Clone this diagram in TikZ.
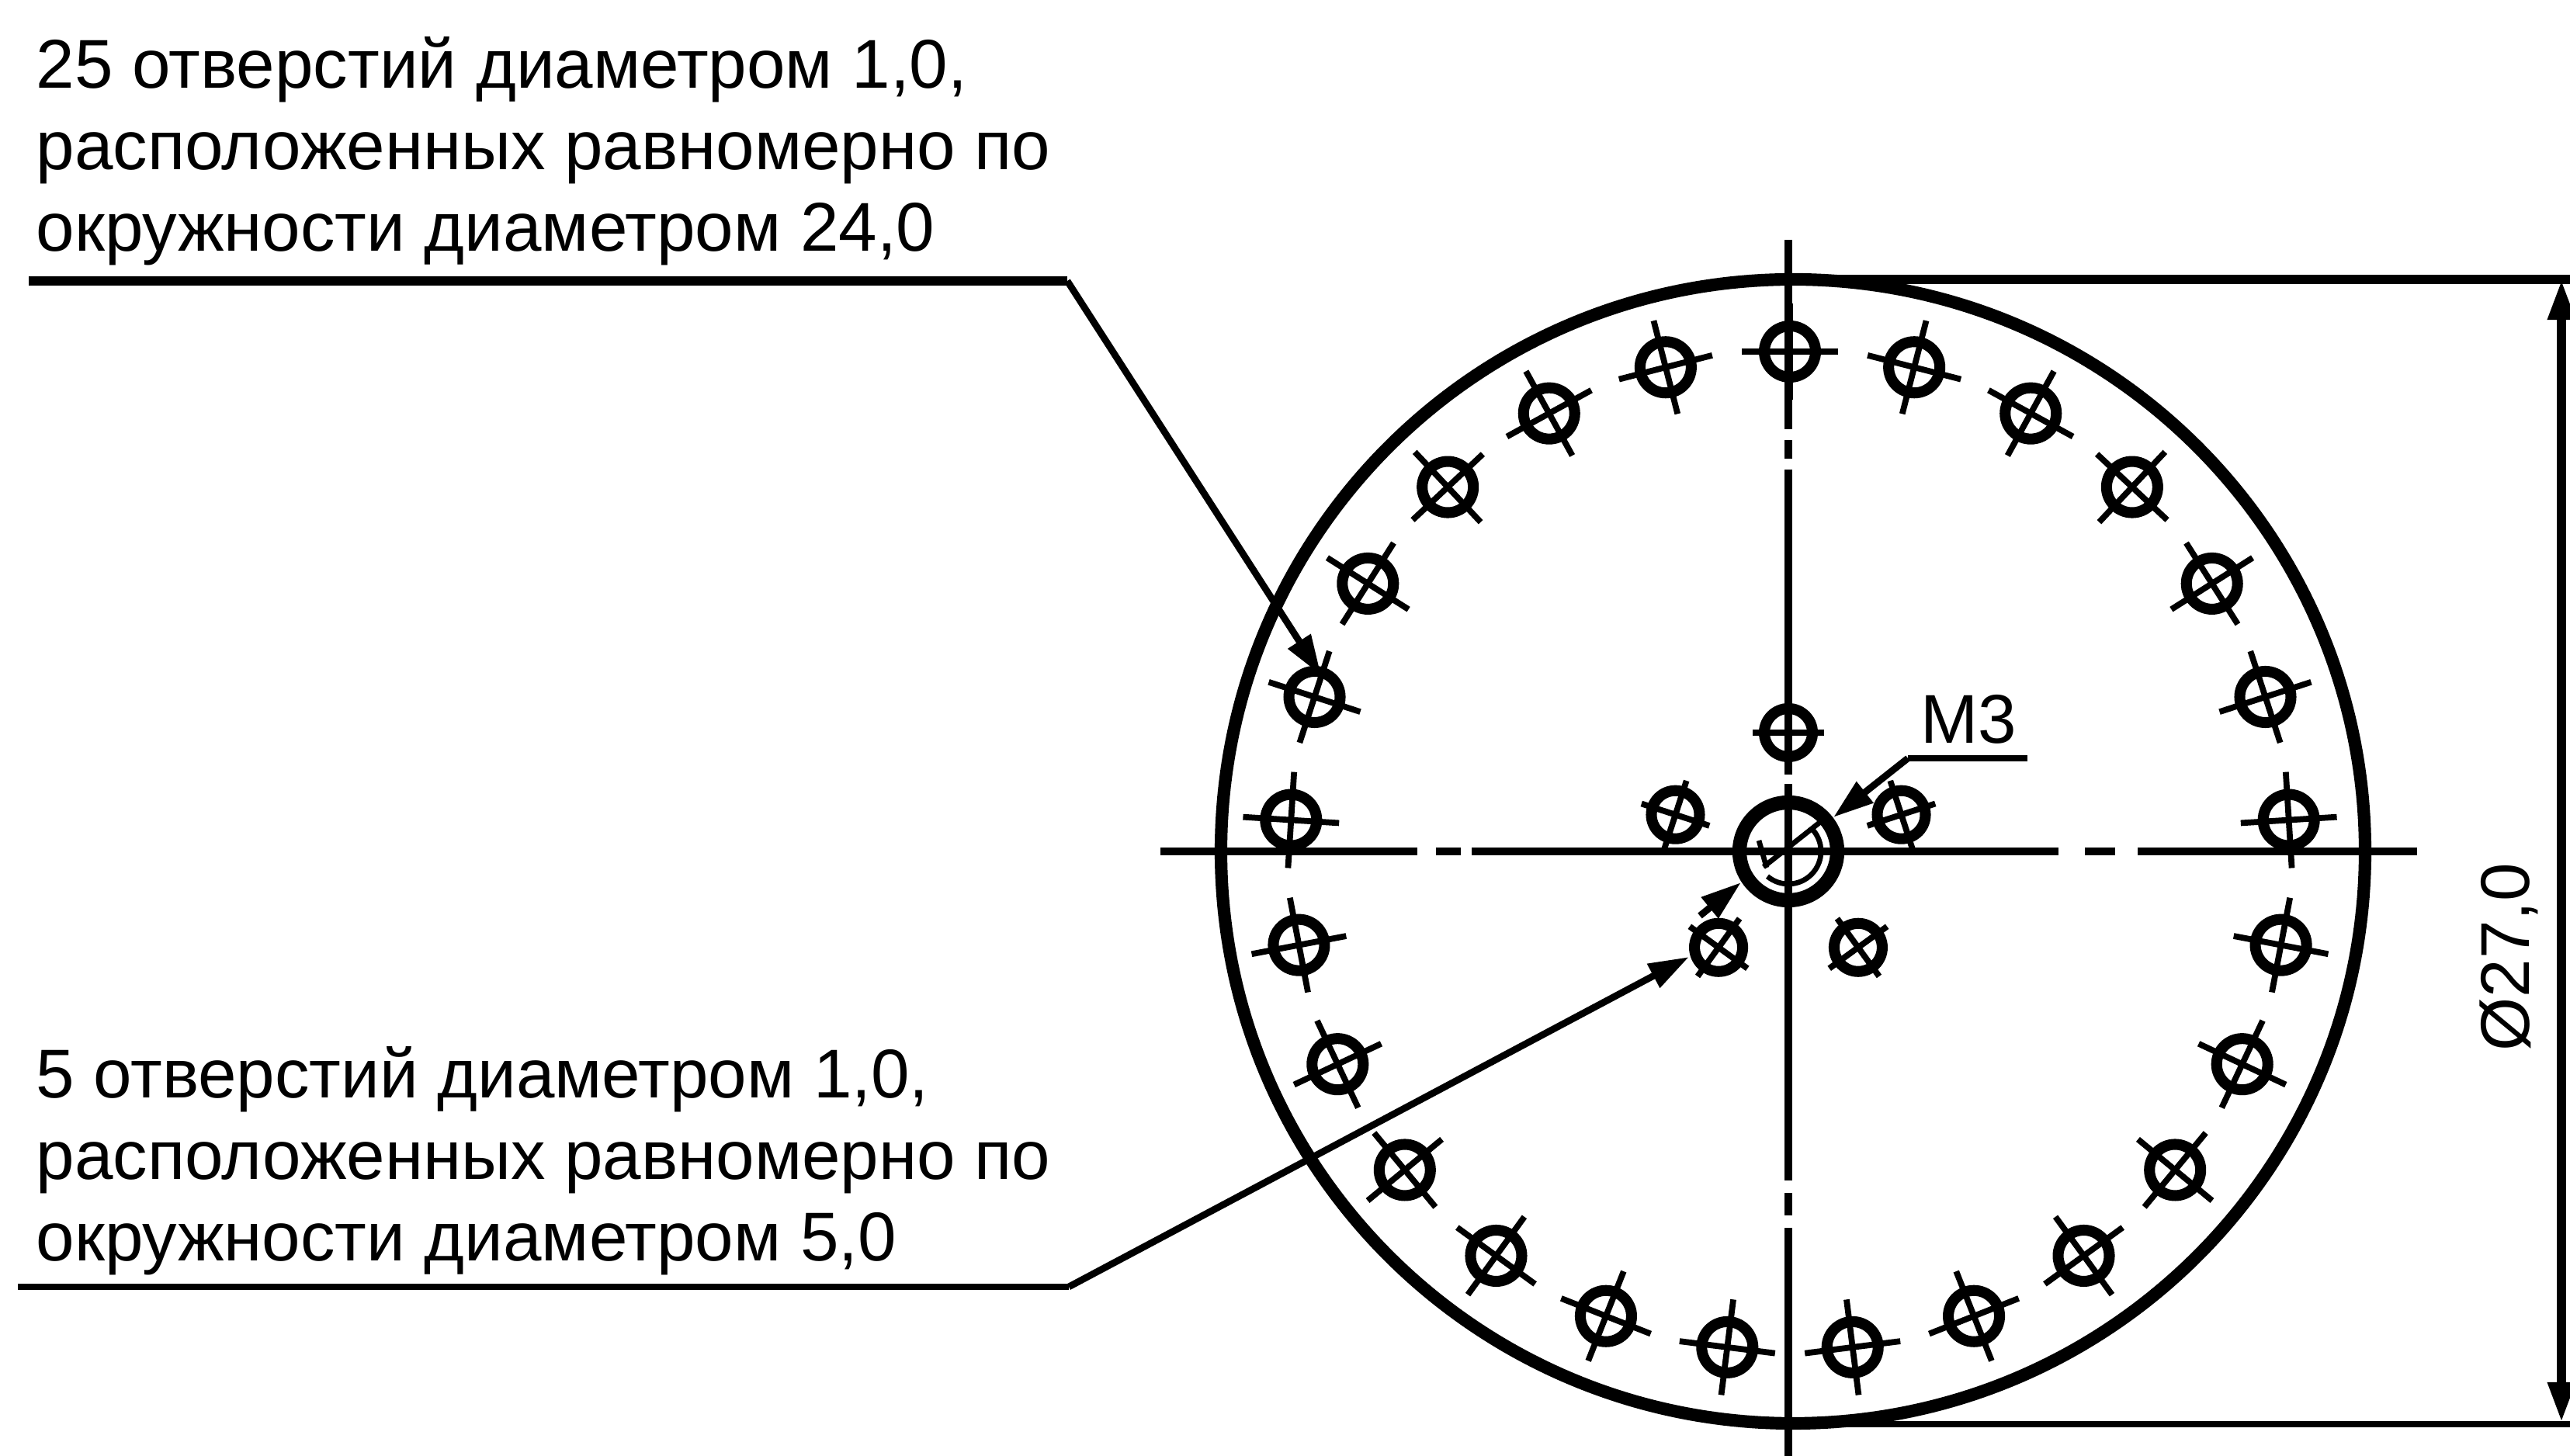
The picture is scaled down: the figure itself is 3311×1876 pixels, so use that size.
\documentclass[tikz,border=0pt]{standalone}
\usepackage{fontspec}
\setmainfont{Liberation Sans}
\usetikzlibrary{arrows.meta,calc}
\tikzset{
  outline/.style={line width=4.6pt},
  holering/.style={line width=4pt},
  holecross/.style={line width=2.2pt},
  axisline/.style={line width=3.1pt},
  shelf/.style={line width=3.4pt},
  leader/.style={line width=2.5pt},
  thread/.style={line width=1.9pt},
  callout/.style={font=\fontsize{25.3pt}{29.9pt}\selectfont,align=left,inner sep=0pt,anchor=base west},
}
\begin{document}
\begin{tikzpicture}[x=0.01cm,y=0.01cm,>={Triangle[length=5.2mm,width=3.3mm]}]
  \useasboundingbox (0,0) rectangle (3311,1876);
  % body
  \coordinate (C) at (2304,779);
  \draw[outline] (2310,779) circle (737);
  \draw[line width=5.2pt] (C) circle (63);
  % axes
  \draw[axisline] (1495,779) -- (1826,779);
  \draw[axisline] (1850,779) -- (1882,779);
  \draw[axisline] (1896,779) -- (2652,779);
  \draw[axisline] (2686,779) -- (2725,779);
  \draw[axisline] (2754,779) -- (3114,779);
  \draw[axisline] (2304,1567) -- (2304,1323);
  \draw[axisline] (2304,1309) -- (2304,1285);
  \draw[axisline] (2304,1271) -- (2304,878);
  \draw[axisline] (2304,866) -- (2304,355);
  \draw[axisline] (2304,339) -- (2304,310);
  \draw[axisline] (2304,294) -- (2304,0);
  % 25 holes on the big circle
  \foreach \i in {0,...,24} {
    \pgfmathsetmacro{\ang}{90+14.4*\i}
    \coordinate (outer\i) at ($(2306,779)+(\ang:644)$);
    \draw[holering] (outer\i) circle (33);
    \draw[holecross] (outer\i) ++(\ang:62) -- ++(\ang+180:124);
    \draw[holecross] (outer\i) ++(\ang+90:62) -- ++(\ang-90:124);
  }
  % 5 holes round the middle
  \foreach \i in {0,...,4} {
    \pgfmathsetmacro{\ang}{90+72*\i}
    \coordinate (inner\i) at ($(C)+(\ang:153)$);
    \draw[holering] (inner\i) circle (31);
    \draw[holecross] (inner\i) ++(\ang:46) -- ++(\ang+180:92);
    \draw[holecross] (inner\i) ++(\ang+90:46) -- ++(\ang-90:92);
  }
  % thread
  \draw[thread] (C) ++(45:42) arc (45:-130:42);
  \draw[thread] (2272,759) -- (2344,816);
  \draw[thread] (2266,793) -- (2276,758);
  % dimension
  \coordinate (dimtop) at (3300,1516);
  \coordinate (dimbot) at (3300,43);
  \draw[shelf] (2310,1516) -- (3311,1516);
  \draw[leader] (2310,41) -- (3311,41);
  \draw[<->,shelf] (dimbot) -- (dimtop);
  \node[callout,rotate=90] (dimtext) at (3258,521) {Ø27,0};
  % callouts
  \node[callout] (top) at (46,1552) {25 отверстий диаметром 1,0,\\расположенных равномерно по\\окружности диаметром 24,0};
  \node[callout] (low) at (46,251) {5 отверстий диаметром 1,0,\\расположенных равномерно по\\окружности диаметром 5,0};
  \node[callout] (thr) at (2474,918) {М3};
  \coordinate (topa) at (37,1514);
  \coordinate (topb) at (1375,1514);
  \coordinate (topc) at (1702,1006);
  \draw[shelf] (topa) -- (topb);
  \draw[->,leader] (topb) -- (topc);
  \coordinate (lowa) at (23,218);
  \coordinate (lowb) at (1377,218);
  \coordinate (lowc) at (2176,643);
  \draw[leader] (lowa) -- (lowb);
  \draw[->,leader] (lowb) -- (lowc);
  \draw[->,leader] (2190,696) -- (2243,739);
  \coordinate (thra) at (2612,899);
  \coordinate (thrb) at (2458,899);
  \coordinate (thrc) at (2362,823);
  \draw[leader] (thra) -- (thrb);
  \draw[->,leader] (thrb) -- (thrc);
\end{tikzpicture}
\end{document}
